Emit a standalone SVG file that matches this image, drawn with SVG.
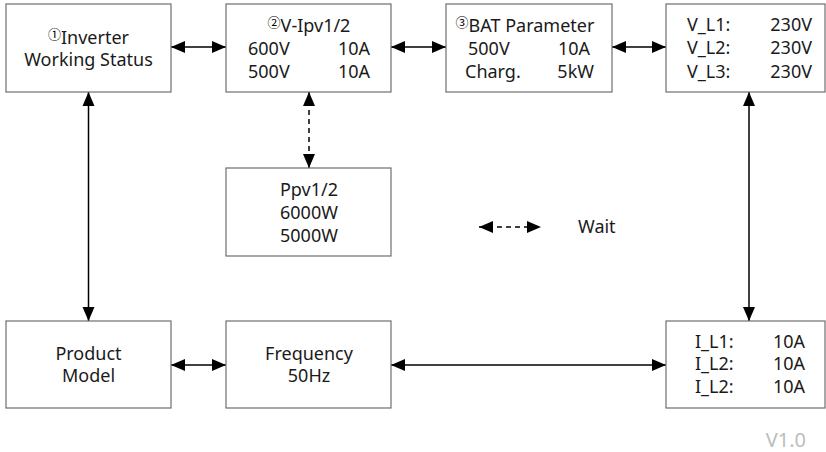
<svg xmlns="http://www.w3.org/2000/svg" width="826" height="452" viewBox="0 0 826 452">
<style>
.box{fill:#fff;stroke:#6e6e6e;stroke-width:1.2}
.t{font-family:"Noto Sans","Noto Sans CJK SC",sans-serif;font-size:18px;fill:#1a1a1a}
.m{text-anchor:middle}
.e{text-anchor:end}
.c{font-family:"Noto Sans CJK SC",sans-serif;font-size:13px;fill:#000}
.ln{stroke:#000;stroke-width:1.5;fill:none;marker-start:url(#ah);marker-end:url(#ah)}
.d{stroke-dasharray:5 4}
.ver{font-family:"Noto Sans",sans-serif;font-size:20px;fill:#bdbdbd}
</style>
<defs>
<marker id="ah" markerUnits="userSpaceOnUse" markerWidth="15" markerHeight="13" refX="14" refY="6" orient="auto-start-reverse" viewBox="0 0 15 12">
<path d="M0,0 L14,6 L0,12 z" fill="#000"/>
</marker>
</defs>
<g id="connectors">
<line class="ln" x1="171" y1="47" x2="226" y2="47"/>
<line class="ln" x1="391" y1="47" x2="446" y2="47"/>
<line class="ln" x1="612" y1="47" x2="666" y2="47"/>
<line class="ln" x1="88.5" y1="92" x2="88.5" y2="321"/>
<line class="ln d" x1="309" y1="92" x2="309" y2="168"/>
<line class="ln" x1="749" y1="92" x2="749" y2="321"/>
<line class="ln" x1="171" y1="365" x2="226" y2="365"/>
<line class="ln" x1="391" y1="365" x2="666" y2="365"/>
</g>
<g id="n1">
<rect class="box" x="6" y="4" width="165" height="88"/>
<text class="t m" x="88.5" y="44"><tspan class="c" dy="-5">①</tspan><tspan dy="5">Inverter</tspan></text>
<text class="t m" x="88.5" y="66">Working Status</text>
</g>
<g id="n2">
<rect class="box" x="226" y="4" width="165" height="88"/>
<text class="t m" x="309" y="32"><tspan class="c" dy="-5">②</tspan><tspan dy="5">V-Ipv1/2</tspan></text>
<text class="t" x="248" y="55">600V</text>
<text class="t e" x="370" y="55">10A</text>
<text class="t" x="248" y="78">500V</text>
<text class="t e" x="370" y="78">10A</text>
</g>
<g id="n3">
<rect class="box" x="446" y="4" width="166" height="88"/>
<text class="t m" x="525" y="32"><tspan class="c" dy="-5">③</tspan><tspan dy="5">BAT Parameter</tspan></text>
<text class="t" x="468" y="55">500V</text>
<text class="t e" x="590" y="55">10A</text>
<text class="t" x="465" y="78">Charg.</text>
<text class="t e" x="594" y="78">5kW</text>
</g>
<g id="n4">
<rect class="box" x="666" y="4" width="159" height="88"/>
<text class="t" x="687" y="31">V_L1:</text>
<text class="t e" x="812" y="31">230V</text>
<text class="t" x="687" y="54">V_L2:</text>
<text class="t e" x="812" y="54">230V</text>
<text class="t" x="687" y="78">V_L3:</text>
<text class="t e" x="812" y="78">230V</text>
</g>
<g id="n5">
<rect class="box" x="226" y="168" width="165" height="88"/>
<text class="t m" x="309" y="196">Ppv1/2</text>
<text class="t m" x="309" y="219">6000W</text>
<text class="t m" x="309" y="242">5000W</text>
</g>
<g id="n6">
<rect class="box" x="6" y="321" width="165" height="87"/>
<text class="t m" x="88.5" y="360">Product</text>
<text class="t m" x="88.5" y="382">Model</text>
</g>
<g id="n7">
<rect class="box" x="226" y="321" width="165" height="87"/>
<text class="t m" x="309" y="360">Frequency</text>
<text class="t m" x="309" y="382">50Hz</text>
</g>
<g id="n8">
<rect class="box" x="666" y="321" width="159" height="87"/>
<text class="t" x="695" y="348">I_L1:</text>
<text class="t e" x="805" y="348">10A</text>
<text class="t" x="695" y="370">I_L2:</text>
<text class="t e" x="805" y="370">10A</text>
<text class="t" x="695" y="393">I_L2:</text>
<text class="t e" x="805" y="393">10A</text>
</g>
<g id="legend">
<line class="ln d" x1="479" y1="227" x2="541" y2="227"/>
<text class="t" x="578" y="233">Wait</text>
</g>
<text class="ver" x="806" y="447" text-anchor="end">V1.0</text>
</svg>
